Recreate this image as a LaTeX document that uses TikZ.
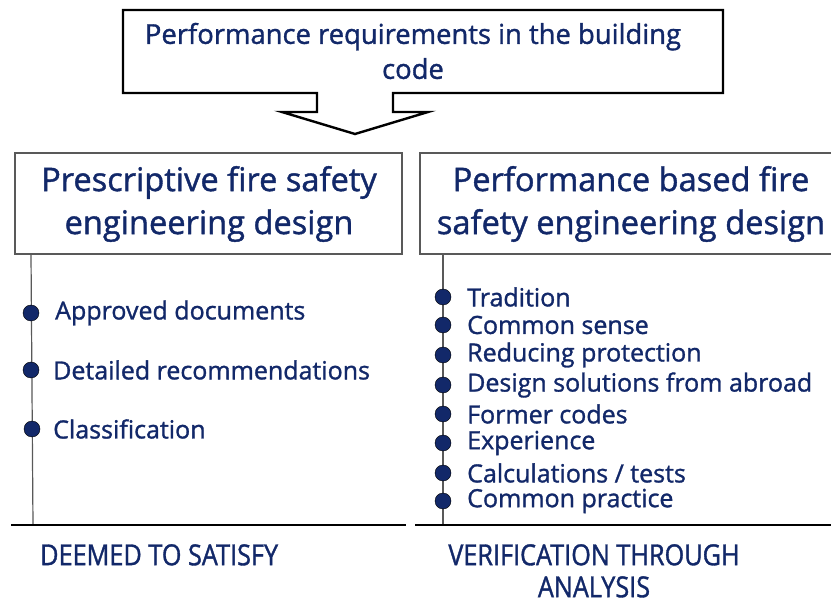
\documentclass[tikz,border=0pt]{standalone}
\usepackage{fontspec}
\setmainfont{Open Sans}[FakeBold=1.2]
\newfontfamily\condfont[FakeStretch=0.87,FakeBold=1.2]{Open Sans}
\definecolor{navy}{RGB}{18,40,105}
\begin{document}
\begin{tikzpicture}[x=1pt,y=-1pt,
  txt/.style={text=navy,inner sep=0pt,font=\fontsize{25}{29}\selectfont},
  head/.style={text=navy,align=center,inner sep=0pt,font=\fontsize{32.6}{43}\selectfont},
  dot/.style={circle,fill=navy,draw=black,line width=0.4pt,minimum size=16pt,inner sep=0pt},
  stem/.style={draw=gray!70!black,line width=1.2pt},
  base/.style={draw=black,line width=2.8pt},
  hbox/.style={draw=gray!70!black,line width=1.3pt,fill=white},
  lab/.style={text=navy,align=center,inner sep=0pt,font=\condfont\fontsize{29}{32}\selectfont}]
\useasboundingbox[fill=white] (0,0) rectangle (831,604);
% top callout
\draw[black,line width=2.4pt,line join=miter,fill=white]
  (123,10) -- (723,10) -- (723,93) -- (393,93) -- (393,112) -- (428,112)
  -- (355,134) -- (282,112) -- (317,112) -- (317,93) -- (123,93) -- cycle;
\node[text=navy,align=center,inner sep=0pt,font=\fontsize{27.4}{35}\selectfont] (top) at (413,51)
  {Performance requirements in the building\\code};
% header boxes
\draw[hbox] (15,153) rectangle (402,254);
\draw[hbox] (420,153) rectangle (836,254);
\node[head] (lh) at (209,204) {Prescriptive fire safety\\engineering design};
\node[head] (rh) at (631,204) {Performance based fire\\safety engineering design};
% coordinates for stems
\coordinate (ls) at (31,254);
\coordinate (le) at (33,525);
\coordinate (rs) at (443,254);
\coordinate (re) at (443,525);
\draw[stem] (ls) -- (le);
\draw[stem] (rs) -- (re);
% base lines
\coordinate (lb1) at (11,525); \coordinate (lb2) at (406,525);
\coordinate (rb1) at (415,525); \coordinate (rb2) at (836,525);
\draw[base] (lb1) -- (lb2);
\draw[base] (rb1) -- (rb2);
% left bullets
\node[dot] (l1) at (31,313) {};
\node[dot] (l2) at (31,370) {};
\node[dot] (l3) at (32,429) {};
\node[txt,anchor=west] (tl1) at (55,313) {Approved documents};
\node[txt,anchor=west] (tl2) at (53,370) {Detailed recommendations};
\node[txt,anchor=west] (tl3) at (53,429) {Classification};
% right bullets
\foreach \y/\t [count=\i] in {297/{Tradition},325/{Common sense},355/{Reducing protection},385/{Design solutions from abroad},414/{Former codes},443/{Experience},473/{Calculations / tests},501/{Common practice}}{
  \node[dot] (r\i) at (443,\y) {};
  \node[txt,anchor=west] (tr\i) at (467,\y) {\t};
}
% bottom labels
\node[lab,anchor=north west] (dts) at (40,544) {DEEMED TO SATISFY};
\node[lab,anchor=north] (vta) at (594,544) {VERIFICATION THROUGH\\ANALYSIS};
\end{tikzpicture}
\end{document}
